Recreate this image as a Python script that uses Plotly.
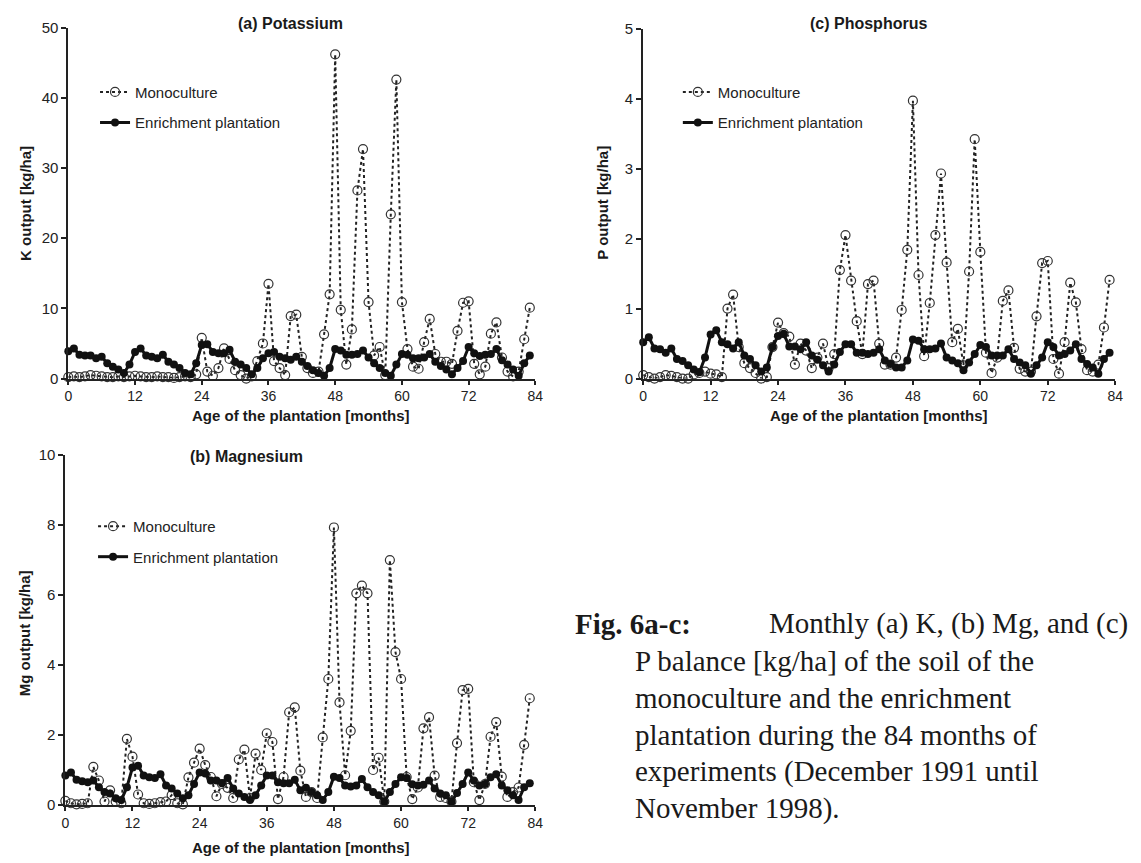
import plotly.graph_objects as go

months = list(range(84))

# Potassium output [kg/ha]
k_mono = [0.2, 0.3, 0.2, 0.3, 0.5, 0.4, 0.3, 0.2, 0.2, 0.3, 0.2, 0.3,
          0.4, 0.3, 0.2, 0.2, 0.3, 0.2, 0.2, 0.1, 0.2, 0.3, 0.2, 0.6,
          5.8, 1.0, 0.4, 1.5, 4.3, 2.8, 1.2, 0.5, 0.0, 0.3, 2.5, 5.0,
          13.5, 2.5, 1.5, 0.5, 8.9, 9.1, 3.1, 1.5, 0.8, 1.0, 6.3, 12.0,
          46.2, 9.8, 2.0, 7.0, 26.8, 32.7, 10.9, 3.3, 4.5, 0.5, 23.4, 42.6,
          10.9, 4.2, 1.7, 1.4, 5.2, 8.5, 3.5, 2.4, 2.4, 2.1, 6.8, 10.8,
          11.0, 2.1, 0.6, 1.7, 6.4, 8.0, 3.0, 1.0, 0.3, 1.0, 5.6, 10.1]
k_enr = [3.9, 4.3, 3.4, 3.3, 3.3, 2.9, 3.1, 2.2, 1.7, 1.3, 0.8, 2.0,
         3.8, 4.3, 3.3, 3.1, 2.9, 3.4, 2.4, 2.0, 1.5, 0.8, 0.6, 2.2,
         4.8, 4.9, 3.8, 3.6, 3.6, 4.1, 2.4, 2.0, 1.5, 0.6, 1.5, 2.9,
         3.6, 3.8, 3.1, 2.9, 2.7, 3.1, 2.4, 1.8, 1.2, 0.8, 0.4, 1.5,
         4.2, 4.0, 3.4, 3.4, 3.5, 4.0, 3.0, 2.2, 1.5, 0.8, 0.4, 2.0,
         3.5, 3.4, 2.9, 2.9, 3.0, 3.5, 2.4, 1.8, 1.3, 0.6, 1.5, 2.5,
         4.5, 3.6, 3.2, 3.4, 3.5, 4.2, 2.6, 2.0, 1.3, 0.4, 2.2, 3.3]

# Magnesium output [kg/ha]
mg_mono = [0.12, 0.05, 0.02, 0.03, 0.05, 1.09, 0.7, 0.1, 0.42, 0.1, 0.05, 1.89,
           1.38, 0.3, 0.05, 0.03, 0.05, 0.08, 0.1, 0.28, 0.05, 0.02, 0.79, 1.21,
           1.61, 1.14, 0.8, 0.25, 0.6, 0.49, 0.2, 1.3, 1.58, 0.2, 1.47, 1.0,
           2.05, 1.8, 0.17, 0.8, 2.65, 2.79, 0.98, 0.23, 0.37, 0.2, 1.93, 3.6,
           7.93, 2.93, 0.85, 2.12, 6.05, 6.27, 6.05, 1.0, 1.35, 0.1, 7.0, 4.37,
           3.6, 0.8, 0.17, 0.5, 2.19, 2.51, 0.84, 0.23, 0.2, 0.1, 1.77, 3.28,
           3.32, 0.65, 0.14, 0.6, 1.95, 2.37, 0.81, 0.23, 0.37, 0.5, 1.72, 3.05]
mg_enr = [0.84, 0.93, 0.72, 0.68, 0.65, 0.7, 0.51, 0.37, 0.33, 0.19, 0.14, 0.51,
          1.07, 1.12, 0.84, 0.79, 0.77, 0.88, 0.56, 0.47, 0.33, 0.19, 0.28, 0.6,
          0.93, 0.9, 0.7, 0.7, 0.62, 0.77, 0.47, 0.33, 0.23, 0.14, 0.28, 0.56,
          0.84, 0.84, 0.65, 0.62, 0.62, 0.72, 0.42, 0.49, 0.37, 0.28, 0.14, 0.37,
          0.81, 0.77, 0.56, 0.53, 0.56, 0.74, 0.51, 0.37, 0.28, 0.09, 0.37, 0.6,
          0.79, 0.77, 0.59, 0.56, 0.58, 0.7, 0.47, 0.33, 0.28, 0.09, 0.34, 0.6,
          0.93, 0.7, 0.56, 0.6, 0.79, 0.88, 0.56, 0.42, 0.28, 0.14, 0.51, 0.62]

# Phosphorus output [kg/ha]
p_mono = [0.05, 0.02, 0.0, 0.02, 0.05, 0.04, 0.02, 0.0, 0.0, 0.06, 0.08, 0.1,
          0.07, 0.06, 0.02, 1.0, 1.2, 0.45, 0.22, 0.15, 0.08, 0.0, 0.02, 0.45,
          0.8, 0.65, 0.6, 0.2, 0.5, 0.4, 0.15, 0.3, 0.5, 0.15, 0.35, 1.55,
          2.05, 1.4, 0.82, 0.35, 1.35, 1.4, 0.5, 0.2, 0.2, 0.3, 0.98, 1.84,
          3.97, 1.48, 0.32, 1.08, 2.05, 2.93, 1.66, 0.52, 0.71, 0.19, 1.53, 3.42,
          1.81, 0.37, 0.08, 0.3, 1.11, 1.26, 0.44, 0.14, 0.1, 0.1, 0.89, 1.65,
          1.68, 0.28, 0.07, 0.52, 1.37, 1.09, 0.42, 0.12, 0.1, 0.2, 0.73, 1.41]
p_enr = [0.52, 0.59, 0.43, 0.42, 0.37, 0.43, 0.28, 0.25, 0.19, 0.13, 0.09, 0.3,
         0.63, 0.69, 0.52, 0.49, 0.43, 0.52, 0.33, 0.28, 0.19, 0.1, 0.16, 0.45,
         0.61, 0.64, 0.46, 0.46, 0.42, 0.52, 0.33, 0.27, 0.19, 0.1, 0.2, 0.38,
         0.49, 0.49, 0.37, 0.37, 0.35, 0.37, 0.42, 0.26, 0.21, 0.16, 0.16, 0.26,
         0.56, 0.54, 0.42, 0.42, 0.43, 0.5, 0.3, 0.26, 0.22, 0.12, 0.23, 0.35,
         0.48, 0.45, 0.33, 0.33, 0.33, 0.42, 0.28, 0.23, 0.19, 0.07, 0.19, 0.3,
         0.52, 0.45, 0.33, 0.35, 0.4, 0.49, 0.28, 0.21, 0.16, 0.07, 0.28, 0.37]

x_ticks = [0, 12, 24, 36, 48, 60, 72, 84]

SANS = "Liberation Sans, Arial, sans-serif"
SERIF = "Liberation Serif, Times New Roman, serif"

fig = go.Figure()

panels = [
    # (x axis, y axis, legend, mono, enrichment)
    ("x", "y", "legend", k_mono, k_enr),
    ("x2", "y2", "legend2", mg_mono, mg_enr),
    ("x3", "y3", "legend3", p_mono, p_enr),
]

for xa, ya, lg, mono, enr in panels:
    fig.add_trace(go.Scatter(
        x=months, y=mono, xaxis=xa, yaxis=ya, legend=lg,
        name="Monoculture", mode="lines+markers", cliponaxis=False,
        line=dict(color="#222222", width=2, dash="dot"),
        marker=dict(symbol="circle-open", size=9, color="#333333",
                    line=dict(width=1.2)),
        legendgroup=lg + "m",
    ))
    fig.add_trace(go.Scatter(
        x=months, y=enr, xaxis=xa, yaxis=ya, legend=lg,
        name="Enrichment plantation", mode="lines+markers", cliponaxis=False,
        line=dict(color="#111111", width=3),
        marker=dict(symbol="circle", size=8, color="#111111"),
        legendgroup=lg + "e",
    ))

W, H = 1141, 863


def px_x(p):
    return p / W


def px_y(p):
    return 1 - p / H


axis_common = dict(
    showgrid=False, zeroline=False, showline=True, linecolor="#222222",
    linewidth=2, ticks="outside", ticklen=5, tickwidth=2, tickcolor="#222222",
    tickfont=dict(family=SANS, size=15, color="#222222"),
)

xa_common = dict(axis_common, range=[0, 84], tickvals=x_ticks, ticklen=4,
                 tickfont=dict(family=SANS, size=14, color="#222222"),
                 ticklabelstandoff=0)

fig.update_layout(
    width=W, height=H,
    margin=dict(l=0, r=0, t=0, b=0),
    paper_bgcolor="white", plot_bgcolor="rgba(0,0,0,0)",
    xaxis=dict(xa_common, domain=[px_x(65), px_x(537)], anchor="y"),
    yaxis=dict(axis_common, domain=[px_y(377), px_y(19)], range=[0, 50],
               tickvals=[0, 10, 20, 30, 40, 50], anchor="x"),
    xaxis2=dict(xa_common, domain=[px_x(62), px_x(537)], anchor="y2"),
    yaxis2=dict(axis_common, domain=[px_y(812), px_y(455)], range=[0, 10],
                tickvals=[0, 2, 4, 6, 8, 10], anchor="x2"),
    xaxis3=dict(xa_common, domain=[px_x(646), px_x(1123)], anchor="y3"),
    yaxis3=dict(axis_common, domain=[px_y(377), px_y(20)], range=[0, 5],
                tickvals=[0, 1, 2, 3, 4, 5], anchor="x3"),
    showlegend=True,
)

legend_common = dict(
    bgcolor="rgba(0,0,0,0)", borderwidth=0, itemwidth=30,
    font=dict(family=SANS, size=15, color="#222222"),
    traceorder="grouped", tracegroupgap=8, xanchor="left", yanchor="top",
    itemclick=False, itemdoubleclick=False,
)
fig.update_layout(
    legend=dict(legend_common, x=px_x(92), y=px_y(68)),
    legend2=dict(legend_common, x=px_x(90), y=px_y(511)),
    legend3=dict(legend_common, x=px_x(681), y=px_y(68)),
)

annotations = []


def text(x, y, s, size=15, angle=0, family=SANS, xanchor="center"):
    annotations.append(dict(
        x=px_x(x), y=px_y(y), xref="paper", yref="paper", text=s,
        showarrow=False, textangle=angle, xanchor=xanchor, yanchor="middle",
        font=dict(family=family, size=size, color="#1a1a1a"),
    ))


# panel titles
text(290, 15, "<b>(a) Potassium</b>", size=16)
text(245, 456, "<b>(b) Magnesium</b>", size=16)
text(874, 15, "<b>(c) Phosphorus</b>", size=16)

# axis titles
text(300, 415, "<b>Age of the plantation [months]</b>")
text(300, 855, "<b>Age of the plantation [months]</b>")
text(884, 415, "<b>Age of the plantation [months]</b>")
text(21, 198, "<b>K output [kg/ha]</b>", angle=-90)
text(21, 637, "<b>Mg output [kg/ha]</b>", angle=-90)
text(604, 198, "<b>P output [kg/ha]</b>", angle=-90)

# figure caption
CAP = 29
text(575, 627, "<b>Fig. 6a-c:</b>", size=CAP, family=SERIF, xanchor="left")
text(1138, 627, "Monthly (a) K, (b) Mg, and (c)", size=CAP, family=SERIF,
     xanchor="right")
caption_lines = [
    "P balance [kg/ha] of the soil of the",
    "monoculture and the enrichment",
    "plantation during the 84 months of",
    "experiments (December 1991 until",
    "November 1998).",
]
for i, line in enumerate(caption_lines):
    text(636, 665 + 37.6 * i, line, size=CAP, family=SERIF, xanchor="left")

fig.update_layout(annotations=annotations)

fig.write_html("out.html")
